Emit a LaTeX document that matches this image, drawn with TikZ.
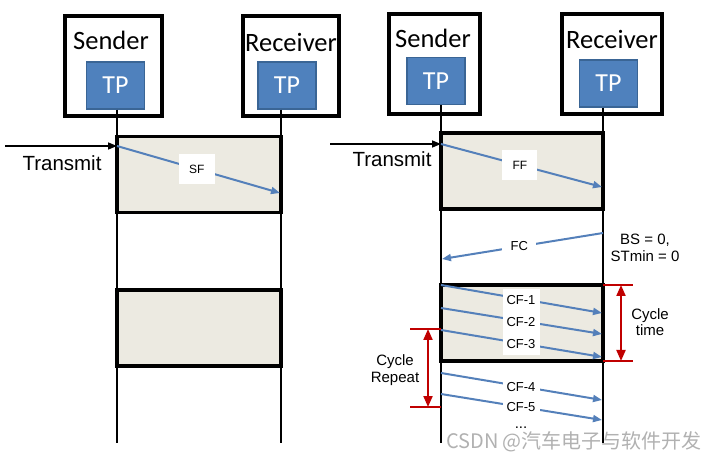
\documentclass[tikz,border=0pt]{standalone}
\usepackage{fontspec}
\setmainfont{Liberation Sans}
\newfontfamily\calfont{Carlito}
\newfontfamily\cjkfont{Noto Sans CJK SC}
\usetikzlibrary{arrows.meta}
\definecolor{tpblue}{HTML}{4F81BD}
\definecolor{tpedge}{HTML}{3A6595}
\definecolor{msgblue}{HTML}{5480BA}
\definecolor{shadefill}{HTML}{ECEAE1}
\definecolor{cyred}{HTML}{C00000}
\definecolor{wmgray}{HTML}{A8A8A8}
\begin{document}
\begin{tikzpicture}[x=1pt,y=-1pt,
  frame/.style={draw, line width=3.5pt, minimum height=100pt, inner sep=0pt},
  title/.style={font=\calfont\fontsize{26.5}{27}\selectfont, inner sep=0pt},
  tpbox/.style={fill=tpblue, draw=tpedge, line width=1.5pt, text=white,
    font=\calfont\fontsize{26}{26}\selectfont, minimum width=58pt, minimum height=47pt, inner sep=0pt},
  period/.style={draw, fill=shadefill, line width=3.5pt, minimum height=76pt, inner sep=0pt},
  life/.style={line width=2pt},
  msg/.style={draw=msgblue, line width=2pt, -{Triangle[length=9pt,width=7pt]}},
  tx/.style={line width=1.5pt, -{Triangle[length=9pt,width=7pt]}},
  lbl/.style={fill=white, inner sep=0pt, minimum width=36pt, minimum height=30pt, font=\fontsize{12}{12}\selectfont},
  cflbl/.style={fill=white, inner sep=0pt, minimum width=37pt, minimum height=22pt, font=\fontsize{13}{13}\selectfont},
  note/.style={align=center, inner sep=0pt, font=\fontsize{15}{16.5}\selectfont},
  txlbl/.style={inner sep=0pt, font=\fontsize{20.5}{21}\selectfont},
  tick/.style={draw=cyred, line width=1.2pt},
  dim/.style={draw=cyred, line width=2pt, {Triangle[length=11pt,width=9pt]}-{Triangle[length=11pt,width=9pt]}}
]
\useasboundingbox (0,0) rectangle (715,462);

% ---------- left diagram ----------
\node[frame, minimum width=97pt] (sfL) at (113.5,66) {};
\node[frame, minimum width=96pt] (rfL) at (291,66) {};
\node[title] (stL) at (111,40) {Sender};
\node[title] (rtL) at (291,42) {Receiver};

\node[period, minimum width=164pt] (p1L) at (199,174.5) {};
\node[period, minimum width=164pt] (p2L) at (199,328) {};

\node[tpbox] (tpsL) at (115.5,85.5) {TP};
\node[tpbox] (tprL) at (287,85.5) {TP};

\coordinate (lsL) at (117,443);
\coordinate (lrL) at (281,443);
\draw[life] (tpsL.south -| lsL) -- (lsL);
\draw[life] (tprL.south -| lrL) -- (lrL);

\coordinate (txL0) at (5,146);
\coordinate (txL1) at (117,146);
\draw[tx] (txL0) -- (txL1);
\node[txlbl] (txtL) at (62,163) {Transmit};

\coordinate (sfA) at (117,146);
\coordinate (sfB) at (280,193);
\draw[msg] (sfA) -- node[lbl, pos=.49] (sfl) {SF} (sfB);

% ---------- right diagram ----------
\node[frame, minimum width=91pt] (sfR) at (434.5,64) {};
\node[frame, minimum width=100pt] (rfR) at (612,64) {};
\node[title] (stR) at (433,38) {Sender};
\node[title] (rtR) at (612,39) {Receiver};

\node[period, minimum width=162pt] (p1R) at (522,171) {};
\node[period, minimum width=162pt] (p2R) at (522,323) {};

\node[tpbox] (tpsR) at (436,81) {TP};
\node[tpbox] (tprR) at (608.5,83.5) {TP};

\coordinate (lsR) at (441,443);
\coordinate (lrR) at (603,443);
\draw[life] (tpsR.south -| lsR) -- (lsR);
\draw[life] (tprR.south -| lrR) -- (lrR);

\coordinate (txR0) at (330,144);
\coordinate (txR1) at (441,144);
\draw[tx] (txR0) -- (txR1);
\node[txlbl] (txtR) at (392,159) {Transmit};

\coordinate (ffA) at (441,144);
\coordinate (ffB) at (602,187);
\draw[msg] (ffA) -- node[lbl, pos=.49, minimum width=35pt] (ffl) {FF} (ffB);

\coordinate (fcA) at (603,233);
\coordinate (fcB) at (442,259);
\draw[msg] (fcA) -- node[lbl, pos=.52, minimum width=34pt, minimum height=20pt, font=\fontsize{13}{13}\selectfont] (fcl) {FC} (fcB);
\node[note] (bs) at (645,248) {BS = 0,\\STmin = 0};

\coordinate (c1A) at (441,285);
\coordinate (c1B) at (602,313);
\coordinate (c2A) at (441,308);
\coordinate (c2B) at (602,334);
\coordinate (c3A) at (441,330);
\coordinate (c3B) at (602,357);
\coordinate (c4A) at (441,373);
\coordinate (c4B) at (602,400);
\coordinate (c5A) at (441,394);
\coordinate (c5B) at (602,420);
\draw[msg] (c1A) -- (c1B);
\draw[msg] (c2A) -- (c2B);
\draw[msg] (c3A) -- (c3B);
\draw[msg] (c4A) -- (c4B);
\draw[msg] (c5A) -- (c5B);
\node[cflbl] (cf1) at (521,300) {CF-1};
\node[cflbl] (cf2) at (521,322) {CF-2};
\node[cflbl] (cf3) at (521,344) {CF-3};
\node[cflbl] (cf4) at (521,387) {CF-4};
\node[cflbl] (cf5) at (521,407) {CF-5};
\node[inner sep=0pt, font=\fontsize{15}{15}\selectfont] (dots) at (521,428) {...};

% cycle time
\coordinate (ctT0) at (603,285);
\coordinate (ctT1) at (633,285);
\coordinate (ctB0) at (603,361);
\coordinate (ctB1) at (633,361);
\coordinate (ctA) at (621,285);
\coordinate (ctB) at (621,361);
\draw[tick] (ctT0) -- (ctT1);
\draw[tick] (ctB0) -- (ctB1);
\draw[dim] (ctA) -- (ctB);
\node[note] (ctl) at (650,322) {Cycle\\time};

% cycle repeat
\coordinate (crT0) at (410,329);
\coordinate (crT1) at (441,329);
\coordinate (crB0) at (410,407);
\coordinate (crB1) at (441,407);
\coordinate (crA) at (428,329);
\coordinate (crB) at (428,407);
\draw[tick] (crT0) -- (crT1);
\draw[tick] (crB0) -- (crB1);
\draw[dim] (crA) -- (crB);
\node[note] (crl) at (395,370) {Cycle\\Repeat};

% watermark
\node[inner sep=0pt, text=wmgray, text opacity=0.9, font=\cjkfont\fontsize{20}{20}\selectfont] (wm) at (574,442) {CSDN @汽车电子与软件开发};
\end{tikzpicture}
\end{document}
